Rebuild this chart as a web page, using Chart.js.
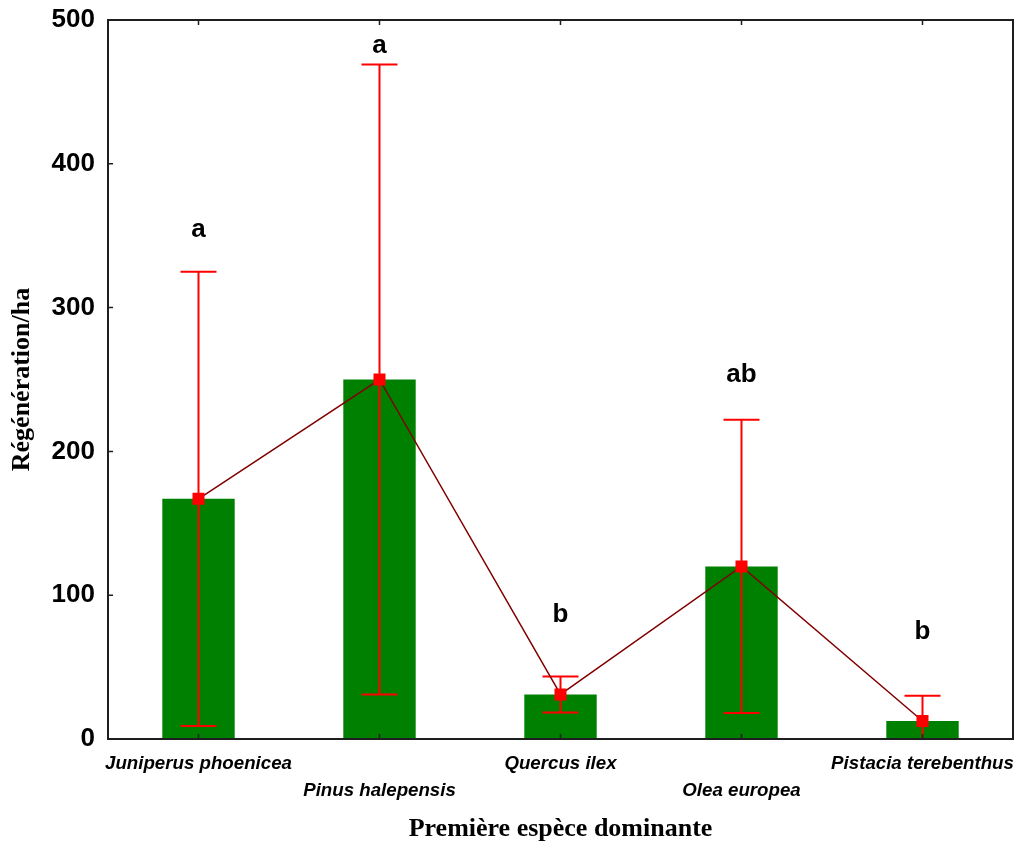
<!DOCTYPE html>
<html>
<head>
<meta charset="utf-8">
<script src="https://cdn.jsdelivr.net/npm/chart.js@4/dist/chart.umd.min.js"></script>
<style>
  html, body { margin: 0; padding: 0; background: #fff; }
  canvas { display: block; }
</style>
</head>
<body>
<canvas id="chart" width="1018" height="845"></canvas>
<script>
// Regeneration per hectare by first dominant species
const categories = ['Juniperus phoenicea', 'Pinus halepensis', 'Quercus ilex', 'Olea europea', 'Pistacia terebenthus'];
const means = [167, 250, 31, 120, 12.5];
const errLow = [9, 31, 18.5, 18, -5];
const errHigh = [325, 469, 43.5, 222, 30];
const groupLetters = ['a', 'a', 'b', 'ab', 'b'];
const letterLevels = [349, 477, 81.6, 248.5, 69.3];
const yTicks = [0, 100, 200, 300, 400, 500];

const AXIS_COLOR = '#1e1e1e';
const SANS = '"Liberation Sans", Arial, sans-serif';
const SERIF = '"Liberation Serif", "Times New Roman", serif';

// Error bars drawn right after the bar dataset, under the mean line
const errorBars = {
  id: 'errorBars',
  afterDatasetDraw(chart, args) {
    if (args.index !== 0) return;
    const { ctx, chartArea, scales: { x, y } } = chart;
    ctx.save();
    ctx.beginPath();
    ctx.rect(chartArea.left, chartArea.top, chartArea.right - chartArea.left, chartArea.bottom - chartArea.top);
    ctx.clip();
    ctx.strokeStyle = '#ff0000';
    ctx.lineWidth = 2;
    const cap = 18;
    categories.forEach((c, i) => {
      const cx = x.getPixelForValue(i);
      const yl = y.getPixelForValue(errLow[i]);
      const yh = y.getPixelForValue(errHigh[i]);
      ctx.beginPath();
      ctx.moveTo(cx, yl); ctx.lineTo(cx, yh);
      ctx.moveTo(cx - cap, yh); ctx.lineTo(cx + cap, yh);
      ctx.moveTo(cx - cap, yl); ctx.lineTo(cx + cap, yl);
      ctx.stroke();
    });
    ctx.restore();
  }
};

// Frame with inward ticks, plus the group letters
const frameAndLetters = {
  id: 'frameAndLetters',
  afterDraw(chart) {
    const { ctx, chartArea: a, scales: { x, y } } = chart;
    ctx.save();
    ctx.strokeStyle = AXIS_COLOR;
    ctx.lineWidth = 2;
    ctx.strokeRect(a.left, a.top, a.right - a.left, a.bottom - a.top);
    ctx.lineWidth = 1.5;
    ctx.beginPath();
    yTicks.forEach(v => {
      const py = y.getPixelForValue(v);
      ctx.moveTo(a.left, py); ctx.lineTo(a.left + 5, py);
    });
    categories.forEach((c, i) => {
      const px = x.getPixelForValue(i);
      ctx.moveTo(px, a.bottom); ctx.lineTo(px, a.bottom - 5);
      ctx.moveTo(px, a.top); ctx.lineTo(px, a.top + 5);
    });
    ctx.stroke();

    ctx.fillStyle = '#000';
    ctx.font = 'bold 26px ' + SANS;
    ctx.textAlign = 'center';
    ctx.textBaseline = 'alphabetic';
    groupLetters.forEach((t, i) => {
      ctx.fillText(t, x.getPixelForValue(i), y.getPixelForValue(letterLevels[i]));
    });
    ctx.restore();
  }
};

new Chart(document.getElementById('chart'), {
  data: {
    labels: categories,
    datasets: [
      {
        type: 'bar',
        data: means,
        backgroundColor: '#008000',
        barPercentage: 0.4,
        categoryPercentage: 1,
        order: 1
      },
      {
        type: 'line',
        data: means,
        borderColor: '#800000',
        borderWidth: 1.5,
        pointStyle: 'rect',
        pointRadius: 8.5,
        pointBackgroundColor: '#ff0000',
        pointBorderWidth: 0,
        tension: 0,
        order: 0
      }
    ]
  },
  options: {
    responsive: false,
    animation: false,
    events: [],
    layout: { autoPadding: false, padding: { left: 0, top: 20, right: 5, bottom: 0 } },
    plugins: { legend: { display: false }, tooltip: { enabled: false } },
    scales: {
      x: {
        offset: true,
        grid: { display: false, drawTicks: false },
        border: { display: false },
        afterFit(scale) {
          scale.height = 106;
          scale.paddingLeft = 0;
          scale.paddingRight = 0;
        },
        ticks: {
          autoSkip: false,
          maxRotation: 0,
          minRotation: 0,
          padding: 11.5,
          color: '#000',
          font: { family: SANS, size: 18.7, weight: 'bold', style: 'italic', lineHeight: 27 / 18.7 },
          callback(v, i) {
            const label = this.getLabelForValue(v);
            return i % 2 ? ['', label] : label;
          }
        },
        title: {
          display: true,
          text: 'Première espèce dominante',
          color: '#000',
          font: { family: SERIF, size: 26, weight: 'bold' },
          padding: { top: 0, bottom: 0 }
        }
      },
      y: {
        min: 0,
        max: 500,
        grid: { display: false, drawTicks: false },
        border: { display: false },
        afterFit(scale) {
          scale.width = 108;
          scale.paddingTop = 0;
          scale.paddingBottom = 0;
        },
        afterBuildTicks(scale) { scale.ticks = yTicks.map(v => ({ value: v })); },
        ticks: {
          padding: 13,
          color: '#000',
          font: { family: SANS, size: 26, weight: 'bold' }
        },
        title: {
          display: true,
          text: 'Régénération/ha',
          color: '#000',
          font: { family: SERIF, size: 26, weight: 'bold' },
          padding: { top: 6.4, bottom: 0 }
        }
      }
    }
  },
  plugins: [errorBars, frameAndLetters]
});
</script>
</body>
</html>
